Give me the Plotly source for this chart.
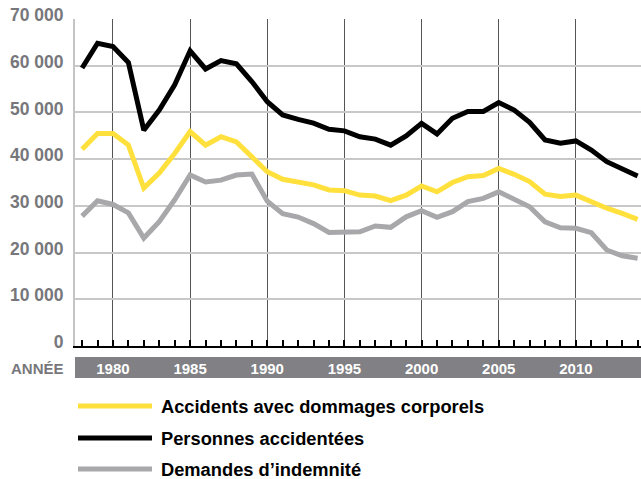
import plotly.graph_objects as go

years = list(range(1978, 2015))

accidents = [42100, 45500, 45500, 43000, 33800, 37000, 41200, 45900, 43000, 44800,
             43700, 40500, 37300, 35700, 35200, 34500, 33400, 33250, 32300, 32100,
             31100, 32300, 34250, 33000, 35000, 36250, 36500, 38000, 36750, 35200,
             32500, 32000, 32300, 30900, 29500, 28400, 27100]

personnes = [59500, 64800, 64100, 60700, 46200, 50500, 55900, 63200, 59300, 61100,
             60400, 56600, 52300, 49450, 48500, 47700, 46400, 46050, 44800, 44300,
             43000, 44950, 47650, 45400, 48750, 50200, 50200, 52100, 50500, 47900,
             44100, 43400, 43900, 41950, 39450, 38050, 36400]

demandes = [27800, 31100, 30300, 28500, 23100, 26600, 31300, 36600, 35100, 35500,
            36600, 36800, 31000, 28300, 27600, 26200, 24300, 24450, 24450, 25700,
            25400, 27650, 28950, 27550, 28750, 30900, 31600, 33000, 31400, 29800,
            26600, 25300, 25200, 24250, 20550, 19300, 18800]

series_names = ["Accidents avec dommages corporels", "Personnes accidentées", "Demandes d\u2019indemnité"]
series_values = [accidents, personnes, demandes]
series_colors = ["#FFE03C", "#000000", "#A8A8AB"]

label_years = [1980, 1985, 1990, 1995, 2000, 2005, 2010]
y_ticks = [0, 10000, 20000, 30000, 40000, 50000, 60000, 70000]
axis_title = "ANNÉE"

W, H = 641, 479
L, R, T, B = 75, 0, 19, 133
plot_h = H - T - B

def py(pix):
    return (H - B - pix) / plot_h

def px(pix):
    return (pix - L) / (W - L - R)

fig = go.Figure()
for name, vals, col in zip(series_names, series_values, series_colors):
    fig.add_trace(go.Scatter(x=years, y=vals, mode="lines", name=name,
                             line=dict(color=col, width=5),
                             showlegend=False))

FONT = "Liberation Sans"

# year band behind x labels
fig.add_shape(type="rect", xref="paper", yref="paper", x0=0, x1=1,
              y0=py(378), y1=py(357), fillcolor="#808085", line=dict(width=0), layer="below")

fig.add_annotation(text=f"<b>{axis_title}</b>", xref="paper", yref="paper",
                   x=px(66), y=py(368), xanchor="right", yanchor="middle",
                   showarrow=False, font=dict(family=FONT, size=15, color="#77777B"))

# legend drawn below the plot
leg_y = [406, 438, 469]
for name, col, yy in zip(series_names, series_colors, leg_y):
    fig.add_shape(type="line", xref="paper", yref="paper",
                  x0=px(78), x1=px(152), y0=py(yy), y1=py(yy),
                  line=dict(color=col, width=5))
    fig.add_annotation(text=f"<b>{name}</b>", xref="paper", yref="paper",
                       x=px(159), y=py(yy), xanchor="left", yanchor="middle",
                       showarrow=False, font=dict(family=FONT, size=18.3, color="#000000"))

fig.update_layout(
    width=W, height=H,
    margin=dict(l=L, r=R, t=T, b=B, pad=0),
    paper_bgcolor="white", plot_bgcolor="white",
    separators=", ",
    showlegend=False,
    xaxis=dict(range=[1977.54, 2014.22], tickvals=label_years,
               ticktext=[str(y) for y in label_years],
               ticks="", showgrid=True, gridcolor="#555555", gridwidth=1.2,
               showline=True, linecolor="#000000", linewidth=2,
               zeroline=False,
               tickfont=dict(family=FONT, size=15, color="#FFFFFF", weight="bold"),
               ticklabelstandoff=8,
               minor=dict(ticks="inside", ticklen=6, tickcolor="#000000", tickwidth=1.5,
                          dtick=1, tick0=1978, showgrid=False)),
    yaxis=dict(range=[0, 70000], tickvals=y_ticks, tickformat=",d",
               showgrid=True, gridcolor="#C8C8C8", gridwidth=2,
               showline=True, linecolor="#C4C4C4", linewidth=2,
               zeroline=False, ticks="",
               ticklabelstandoff=6, ticklabelshift=-4,
               tickfont=dict(family=FONT, size=17.5, color="#77777B", weight="bold")),
)

fig.write_html("out.html", config={"displayModeBar": False},
               post_script="document.body.style.margin='0';document.body.style.padding='0';")
